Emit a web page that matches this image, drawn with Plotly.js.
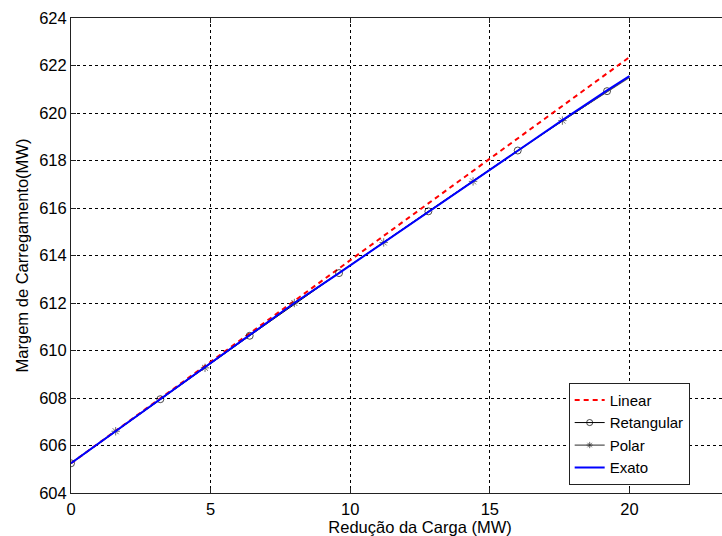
<!DOCTYPE html>
<html>
<head>
<meta charset="utf-8">
<script src="https://cdn.plot.ly/plotly-3.0.1.min.js"></script>
<style>
  html, body { margin: 0; padding: 0; overflow: hidden; background: #fff; }
  #chart { width: 770px; height: 536px; }
</style>
</head>
<body>
<div id="chart"></div>
<script>
// Load reduction (MW) and the resulting loading margin (MW) for each method
const xLinear = [0, 20];
const yLinear = [605.25, 622.35];

const xRetangular = [0, 3.2, 6.4, 9.6, 12.8, 16.0, 19.2, 20];
const yRetangular = [605.25, 607.95, 610.62, 613.26, 615.86, 618.42, 620.92, 621.52];
const sizeRetangular = [7, 7, 7, 7, 7, 7, 7, 0];

const xPolar = [0, 1.6, 4.8, 8.0, 11.2, 14.4, 17.6, 20];
const yPolar = [605.25, 606.6, 609.27, 612.0, 614.55, 617.12, 619.68, 621.5];
const sizePolar = [0, 7, 7, 7, 7, 7, 7, 0];

const xExato = [0, 1.6, 3.2, 4.8, 6.4, 8.0, 9.6, 11.2, 12.8, 14.4, 16.0, 17.6, 19.2, 20];
const yExato = [605.25, 606.6, 607.95, 609.27, 610.62, 612.0, 613.26, 614.55, 615.86, 617.12, 618.42, 619.7, 620.95, 621.55];

const font = 'Liberation Sans, Arial, Helvetica, sans-serif';

const traces = [
  { x: xLinear, y: yLinear, name: 'Linear', mode: 'lines',
    line: { color: '#ff0000', width: 2, dash: '5px,4px' } },
  { x: xRetangular, y: yRetangular, name: 'Retangular', mode: 'lines+markers',
    line: { color: '#000000', width: 1 },
    marker: { symbol: 'circle-open', size: sizeRetangular, color: '#000000', line: { width: 1 } } },
  { x: xPolar, y: yPolar, name: 'Polar', mode: 'lines+markers',
    line: { color: '#555555', width: 1.2 },
    marker: { symbol: 'asterisk-open', size: sizePolar, color: '#333333', line: { width: 1 } } },
  { x: xExato, y: yExato, name: 'Exato', mode: 'lines',
    line: { color: '#0000ff', width: 2 } }
];

const axisCommon = {
  showline: true, mirror: 'ticks', linecolor: '#222', linewidth: 1,
  showgrid: true, gridcolor: '#000', gridwidth: 1, griddash: 'dot',
  zeroline: false, ticks: 'inside', ticklen: 5, tickcolor: '#222', tickwidth: 1,
  tickfont: { family: font, size: 16.5, color: '#000' }
};

const layout = {
  width: 770, height: 536,
  margin: { l: 71, r: 1, t: 18, b: 43 },
  paper_bgcolor: '#fff', plot_bgcolor: '#fff',
  font: { family: font, size: 16, color: '#000' },
  showlegend: true,
  xaxis: Object.assign({}, axisCommon, {
    range: [0, 25], dtick: 5, ticklabelstandoff: 1,
    title: { text: 'Redução da Carga (MW)', font: { family: font, size: 16.5, color: '#000' }, standoff: 2 }
  }),
  yaxis: Object.assign({}, axisCommon, {
    range: [604, 624], dtick: 2,
    title: { text: 'Margem de Carregamento(MW)', font: { family: font, size: 16.5, color: '#000' }, standoff: 6 }
  }),
  legend: {
    x: 0.713, y: 0.232, xanchor: 'left', yanchor: 'top',
    bgcolor: '#fff', bordercolor: '#222', borderwidth: 1,
    font: { family: font, size: 15, color: '#000' },
    tracegroupgap: 0, itemwidth: 30
  }
};

Plotly.newPlot('chart', traces, layout, { displayModeBar: false, staticPlot: true });
</script>
</body>
</html>
